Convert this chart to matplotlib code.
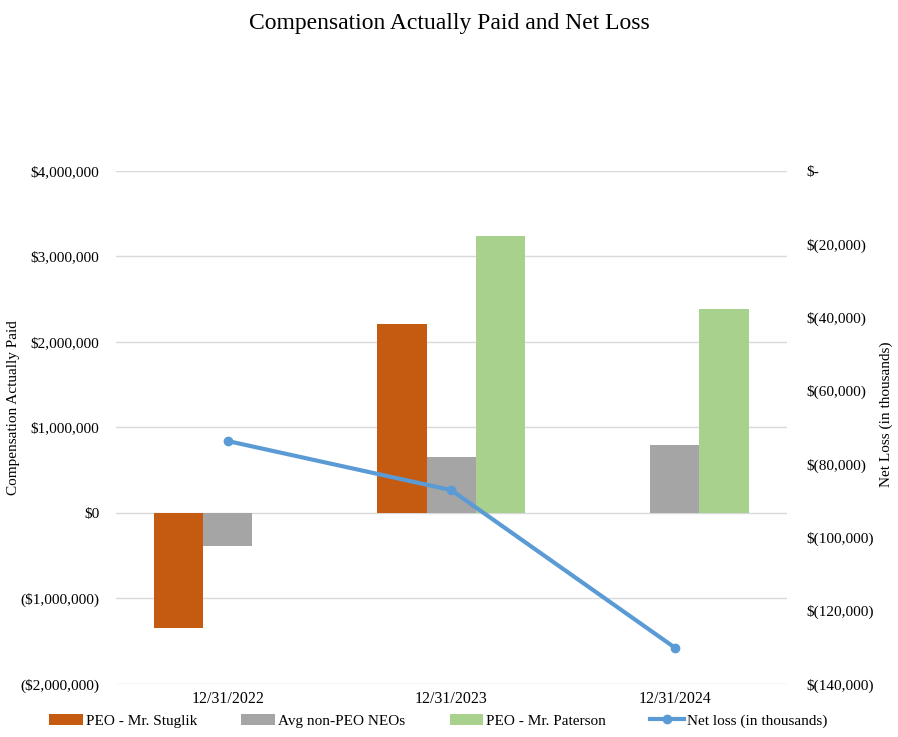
import matplotlib.pyplot as plt
import matplotlib.ticker as mticker
import numpy as np

plt.rcParams['font.family'] = ['Liberation Serif', 'DejaVu Serif']

years = ["12/31/2022", "12/31/2023", "12/31/2024"]
stuglik = [-1340000, 2210000, np.nan]
avg_neo = [-390000, 655000, 790000]
paterson = [np.nan, 3245000, 2385000]
net_loss = [-73700, -87100, -130100]

c_orange = "#C55A11"
c_gray = "#A5A5A5"
c_green = "#A9D18E"
c_blue = "#5B9BD5"


def left_fmt(v, pos):
    if v < 0:
        return "(${:,.0f})".format(-v)
    return "${:,.0f}".format(v)


def right_fmt(v, pos):
    if v == 0:
        return "$-"
    return "$({:,.0f})".format(-v)


fig = plt.figure(figsize=(8.98, 7.37), dpi=100)
ax = fig.add_axes([0.129, 0.072, 0.747, 0.696])

x = np.arange(len(years))
w = 0.22
ax.bar(x - w, stuglik, w, color=c_orange, label="PEO - Mr. Stuglik", zorder=2)
ax.bar(x, avg_neo, w, color=c_gray, label="Avg non-PEO NEOs", zorder=2)
ax.bar(x + w, paterson, w, color=c_green, label="PEO - Mr. Paterson", zorder=2)

ax.set_xlim(-0.5, 2.5)
ax.set_ylim(-2000000, 4000000)
ax.yaxis.set_major_locator(mticker.MultipleLocator(1000000))
ax.yaxis.set_major_formatter(mticker.FuncFormatter(left_fmt))
ax.grid(axis="y", color="#D9D9D9", linewidth=1, zorder=0)
ax.set_axisbelow(True)
ax.set_xticks(x)
ax.set_xticklabels(years)
ax.tick_params(length=0, labelsize=11)
ax.tick_params(axis="x", labelsize=11.5, pad=5)
ax.tick_params(axis="y", pad=12)
for s in ax.spines.values():
    s.set_visible(False)
ax.set_ylabel("Compensation Actually Paid", fontsize=11)
ax.yaxis.set_label_coords(-0.143, 0.538)

ax2 = ax.twinx()
ax2.plot(x, net_loss, color=c_blue, linewidth=3, marker="o", markersize=6,
         label="Net loss (in thousands)", zorder=3)
ax2.set_ylim(-140000, 0)
ax2.yaxis.set_major_locator(mticker.MultipleLocator(20000))
ax2.yaxis.set_major_formatter(mticker.FuncFormatter(right_fmt))
ax2.tick_params(length=0, labelsize=11, pad=14)
for s in ax2.spines.values():
    s.set_visible(False)
ax2.set_ylabel("Net Loss (in thousands)", fontsize=11)
ax2.yaxis.set_label_coords(1.1386, 0.526)

h1, l1 = ax.get_legend_handles_labels()
h2, l2 = ax2.get_legend_handles_labels()
fig.legend(h1 + h2, l1 + l2, loc="center", bbox_to_anchor=(0.488, 0.022),
           ncol=4, frameon=False, fontsize=11, handlelength=2.2,
           columnspacing=2.9, handletextpad=0.2)

fig.suptitle("Compensation Actually Paid and Net Loss", fontsize=17, y=0.982)

fig.savefig("out.png", dpi=100)
